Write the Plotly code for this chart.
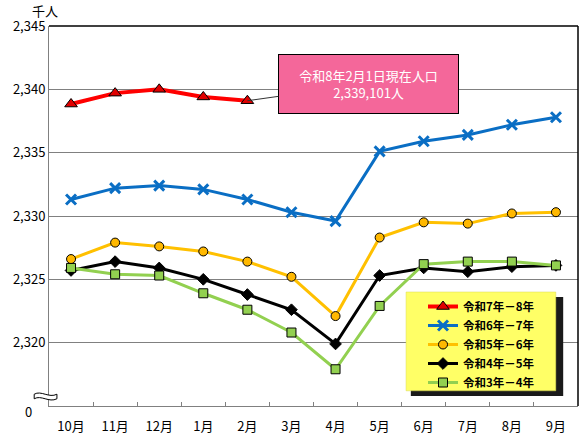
import plotly.graph_objects as go

# Monthly population (thousand people), Oct -> Sep
months = ['10月', '11月', '12月', '1月', '2月', '3月', '4月', '5月', '6月', '7月', '8月', '9月']

r7_8 = [2338.84, 2339.7, 2340.0, 2339.4, 2339.1]
r6_7 = [2331.3, 2332.2, 2332.4, 2332.1, 2331.3, 2330.3, 2329.6, 2335.1, 2335.9, 2336.4, 2337.2, 2337.8]
r5_6 = [2326.6, 2327.9, 2327.6, 2327.2, 2326.4, 2325.2, 2322.1, 2328.3, 2329.5, 2329.4, 2330.2, 2330.3]
r4_5 = [2325.7, 2326.4, 2325.9, 2325.0, 2323.8, 2322.6, 2319.9, 2325.3, 2325.9, 2325.6, 2326.0, 2326.1]
r3_4 = [2325.9, 2325.4, 2325.3, 2323.9, 2322.6, 2320.8, 2317.9, 2322.9, 2326.2, 2326.4, 2326.4, 2326.1]

y_ticks = [2320, 2325, 2330, 2335, 2340, 2345]
y_ticktext = ['2,320', '2,325', '2,330', '2,335', '2,340', '2,345']

FONT = 'Noto Sans CJK JP'

fig = go.Figure()

fig.add_trace(go.Scatter(
    x=months[:len(r7_8)], y=r7_8, name='令和7年－8年', mode='lines+markers',
    line=dict(color='#FF0000', width=4),
    marker=dict(symbol='triangle-up', size=11, color='#E00000', line=dict(color='black', width=1))))
fig.add_trace(go.Scatter(
    x=months, y=r6_7, name='令和6年－7年', mode='lines+markers',
    line=dict(color='#0A6EC4', width=3),
    marker=dict(symbol='x-thin', size=10, color='#0A6EC4', line=dict(color='#0A6EC4', width=3))))
fig.add_trace(go.Scatter(
    x=months, y=r5_6, name='令和5年－6年', mode='lines+markers',
    line=dict(color='#FFC000', width=3),
    marker=dict(symbol='circle', size=9, color='#FFB800', line=dict(color='black', width=1))))
fig.add_trace(go.Scatter(
    x=months, y=r4_5, name='令和4年－5年', mode='lines+markers',
    line=dict(color='black', width=3),
    marker=dict(symbol='diamond', size=9, color='black', line=dict(color='black', width=1))))
fig.add_trace(go.Scatter(
    x=months, y=r3_4, name='令和3年－4年', mode='lines+markers',
    line=dict(color='#92D050', width=3),
    marker=dict(symbol='square', size=9, color='#92D050', line=dict(color='black', width=1))))

# pink call-out pointing at the latest red point
fig.add_annotation(
    x=months[len(r7_8) - 1], y=r7_8[-1], xref='x', yref='y',
    text='令和8年2月1日現在人口<br>2,339,101人',
    font=dict(family=FONT, size=13, color='white'),
    showarrow=True, arrowhead=0, arrowwidth=1, arrowcolor='#333333',
    ax=121, ay=-17, width=177, height=56,
    bgcolor='#F4679A', bordercolor='black', borderwidth=1, borderpad=1)

# unit label and the "0" under the axis break
fig.add_annotation(x=-0.008, y=1.042, xref='paper', yref='paper', text='千人',
                   xanchor='center', yanchor='middle',
                   showarrow=False, font=dict(family=FONT, size=13, color='black'))
fig.add_annotation(x=-0.038, y=2315, xref='paper', yref='y', yshift=-5, text='0',
                   xanchor='center', yanchor='middle',
                   showarrow=False, font=dict(family=FONT, size=13, color='black'))

# frame on top and right
fig.add_shape(type='line', xref='paper', yref='paper', x0=0, x1=1, y0=1, y1=1,
              line=dict(color='black', width=1.5), layer='above')
fig.add_shape(type='line', xref='paper', yref='paper', x0=1, x1=1, y0=0, y1=1,
              line=dict(color='black', width=1.5), layer='above')

# axis break symbol
fig.add_shape(type='path', xref='paper', yref='paper', layer='above',
              path='M -0.028,0.031 C -0.015,0.042 0.000,0.020 0.015,0.031 '
                   'L 0.015,0.019 C 0.000,0.008 -0.015,0.030 -0.028,0.019 Z',
              fillcolor='white', line=dict(color='black', width=1))

# legend box (shadow + yellow panel) drawn as shapes behind the legend
fig.add_shape(type='rect', xref='paper', yref='paper', layer='above',
              x0=0.684, x1=0.972, y0=0.026, y1=0.287,
              fillcolor='#1a1a1a', line=dict(width=0))
fig.add_shape(type='rect', xref='paper', yref='paper', layer='above',
              x0=0.675, x1=0.958, y0=0.040, y1=0.300,
              fillcolor='#FFFF66', line=dict(color='#d8d850', width=0.5))

fig.update_layout(
    width=588, height=438,
    margin=dict(l=49, r=10, t=26, b=32, autoexpand=False),
    paper_bgcolor='white', plot_bgcolor='white',
    font=dict(family=FONT, size=13, color='black'),
    showlegend=True,
    legend=dict(x=0.707, y=0.30, xanchor='left', yanchor='top',
                bgcolor='rgba(0,0,0,0)', borderwidth=0,
                font=dict(family=FONT, size=11.5, color='black', weight='bold'),
                tracegroupgap=0, itemwidth=30),
)

fig.update_xaxes(
    type='category', categoryorder='array', categoryarray=months,
    range=[-0.5, len(months) - 0.5],
    showline=True, linecolor='#808080', linewidth=1, automargin=False,
    ticks='inside', tickson='boundaries', ticklen=4, tickcolor='#808080',
    showgrid=False, tickfont=dict(family=FONT, size=13), ticklabelstandoff=8)
fig.update_yaxes(
    range=[2315, 2345], tickvals=y_ticks, ticktext=y_ticktext,
    showline=True, linecolor='#808080', linewidth=1, automargin=False,
    showgrid=True, gridcolor='#808080', gridwidth=1,
    ticks='', zeroline=False, tickfont=dict(family=FONT, size=13))

fig.write_html('out.html', config={'displayModeBar': False},
               post_script="document.body.style.margin='0';")
